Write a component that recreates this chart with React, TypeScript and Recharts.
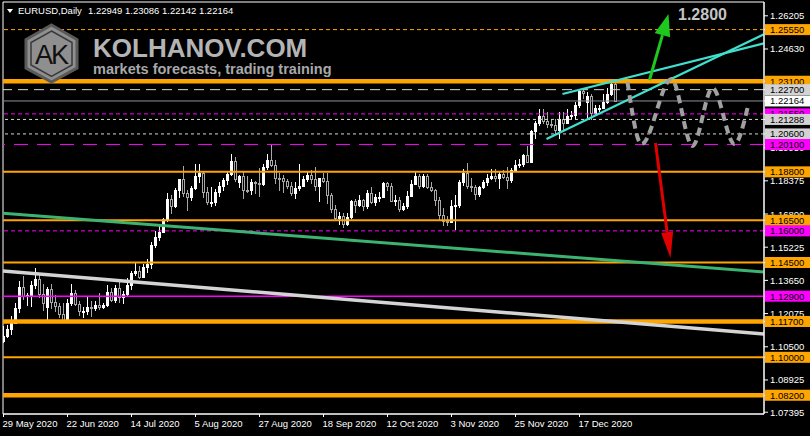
import React from 'react'
import { ComposedChart, Bar, Line, XAxis, YAxis, ReferenceLine, ReferenceArea } from 'recharts'

// EURUSD daily candles, 29 May 2020 .. 31 Dec 2020 (index = bar number)
const opens = [
  1.1077, 1.1100, 1.1135, 1.1165, 1.1236, 1.1336, 1.1292, 1.1290, 1.1341, 1.1373,
  1.1300, 1.1240, 1.1325, 1.1262, 1.1242, 1.1204, 1.1177, 1.1258, 1.1307, 1.1252,
  1.1219, 1.1221, 1.1241, 1.1234, 1.1250, 1.1238, 1.1246, 1.1310, 1.1274, 1.1330,
  1.1288, 1.1300, 1.1343, 1.1398, 1.1410, 1.1383, 1.1428, 1.1445, 1.1532, 1.1569,
  1.1596, 1.1656, 1.1753, 1.1716, 1.1792, 1.1845, 1.1778, 1.1763, 1.1802, 1.1861,
  1.1876, 1.1785, 1.1736, 1.1738, 1.1785, 1.1813, 1.1842, 1.1869, 1.1931, 1.1834,
  1.1858, 1.1795, 1.1793, 1.1834, 1.1829, 1.1822, 1.1904, 1.1936, 1.1913, 1.1853,
  1.1850, 1.1837, 1.1815, 1.1780, 1.1805, 1.1814, 1.1845, 1.1864, 1.1846, 1.1813,
  1.1849, 1.1838, 1.1771, 1.1705, 1.1659, 1.1672, 1.1632, 1.1666, 1.1741, 1.1721,
  1.1746, 1.1716, 1.1781, 1.1736, 1.1761, 1.1762, 1.1825, 1.1813, 1.1744, 1.1747,
  1.1706, 1.1716, 1.1767, 1.1823, 1.1862, 1.1815, 1.1860, 1.1810, 1.1794, 1.1746,
  1.1673, 1.1646, 1.1642, 1.1717, 1.1725, 1.1831, 1.1876, 1.1814, 1.1810, 1.1775,
  1.1808, 1.1833, 1.1853, 1.1859, 1.1849, 1.1870, 1.1857, 1.1842, 1.1888, 1.1914,
  1.1916, 1.1962, 1.1926, 1.2072, 1.2112, 1.2146, 1.2120, 1.2109, 1.2102, 1.2078,
  1.2133, 1.2114, 1.2145, 1.2150, 1.2197, 1.2266, 1.2212, 1.2241, 1.2159, 1.2182,
  1.2185, 1.2213, 1.2249, 1.22949,
]
const highs = [
  1.1147, 1.1155, 1.1197, 1.1257, 1.1362, 1.1384, 1.1303, 1.1362, 1.1422, 1.1390,
  1.1347, 1.1335, 1.1350, 1.1298, 1.1257, 1.1257, 1.1275, 1.1349, 1.1321, 1.1265,
  1.1241, 1.1285, 1.1268, 1.1265, 1.1303, 1.1260, 1.1345, 1.1330, 1.1345, 1.1372,
  1.1313, 1.1375, 1.1411, 1.1452, 1.1433, 1.1445, 1.1468, 1.1546, 1.1601, 1.1622,
  1.1660, 1.1781, 1.1770, 1.1805, 1.1847, 1.1908, 1.1795, 1.1815, 1.1916, 1.1917,
  1.1885, 1.1806, 1.1806, 1.1800, 1.1834, 1.1851, 1.1884, 1.1966, 1.1951, 1.1866,
  1.1883, 1.1858, 1.1845, 1.1835, 1.1900, 1.1915, 1.1966, 1.2011, 1.1937, 1.1876,
  1.1863, 1.1847, 1.1834, 1.1832, 1.1917, 1.1860, 1.1885, 1.1888, 1.1902, 1.1851,
  1.1873, 1.1873, 1.1780, 1.1722, 1.1688, 1.1687, 1.1683, 1.1745, 1.1753, 1.1771,
  1.1750, 1.1792, 1.1807, 1.1774, 1.1785, 1.1831, 1.1833, 1.1825, 1.1770, 1.1760,
  1.1734, 1.1790, 1.1840, 1.1880, 1.1868, 1.1868, 1.1870, 1.1830, 1.1797, 1.1760,
  1.1710, 1.1670, 1.1745, 1.1770, 1.1839, 1.1892, 1.1920, 1.1850, 1.1820, 1.1815,
  1.1840, 1.1870, 1.1893, 1.1892, 1.1883, 1.1890, 1.1905, 1.1898, 1.1935, 1.1941,
  1.1965, 1.2005, 1.2077, 1.2122, 1.2176, 1.2177, 1.2166, 1.2131, 1.2130, 1.2163,
  1.2162, 1.2178, 1.2167, 1.2212, 1.2273, 1.2272, 1.2260, 1.2250, 1.2196, 1.2198,
  1.2250, 1.2276, 1.2310, 1.23086,
]
const lows = [
  1.1068, 1.1092, 1.1105, 1.1160, 1.1210, 1.1272, 1.1244, 1.1240, 1.1325, 1.1280,
  1.1220, 1.1168, 1.1230, 1.1213, 1.1185, 1.1168, 1.1169, 1.1242, 1.1243, 1.1196,
  1.1188, 1.1203, 1.1191, 1.1221, 1.1225, 1.1229, 1.1240, 1.1262, 1.1260, 1.1257,
  1.1255, 1.1290, 1.1320, 1.1387, 1.1371, 1.1375, 1.1398, 1.1418, 1.1520, 1.1552,
  1.1590, 1.1640, 1.1680, 1.1708, 1.1754, 1.1762, 1.1696, 1.1740, 1.1794, 1.1829,
  1.1756, 1.1722, 1.1711, 1.1716, 1.1761, 1.1788, 1.1818, 1.1860, 1.1830, 1.1802,
  1.1753, 1.1780, 1.1772, 1.1773, 1.1762, 1.1812, 1.1888, 1.1904, 1.1823, 1.1789,
  1.1780, 1.1800, 1.1765, 1.1753, 1.1790, 1.1810, 1.1834, 1.1824, 1.1788, 1.1737,
  1.1826, 1.1727, 1.1684, 1.1652, 1.1627, 1.1612, 1.1624, 1.1657, 1.1686, 1.1713,
  1.1695, 1.1702, 1.1729, 1.1718, 1.1738, 1.1755, 1.1789, 1.1739, 1.1720, 1.1688,
  1.1695, 1.1704, 1.1759, 1.1818, 1.1800, 1.1805, 1.1800, 1.1784, 1.1718, 1.1650,
  1.1622, 1.1622, 1.1640, 1.1603, 1.1710, 1.1815, 1.1800, 1.1785, 1.1745, 1.1760,
  1.1798, 1.1814, 1.1840, 1.1833, 1.1800, 1.1845, 1.1800, 1.1825, 1.1878, 1.1898,
  1.1905, 1.1923, 1.1922, 1.2037, 1.2097, 1.2106, 1.2088, 1.2090, 1.2058, 1.2036,
  1.2080, 1.2112, 1.2125, 1.2128, 1.2185, 1.2224, 1.2135, 1.2128, 1.2152, 1.2164,
  1.2180, 1.2200, 1.2240, 1.22142,
]
const closes = [
  1.1100, 1.1135, 1.1165, 1.1236, 1.1336, 1.1290, 1.1294, 1.1341, 1.1373, 1.1300,
  1.1256, 1.1325, 1.1262, 1.1242, 1.1204, 1.1177, 1.1258, 1.1307, 1.1252, 1.1219,
  1.1221, 1.1241, 1.1234, 1.1250, 1.1238, 1.1246, 1.1310, 1.1274, 1.1330, 1.1288,
  1.1300, 1.1343, 1.1398, 1.1410, 1.1383, 1.1428, 1.1445, 1.1532, 1.1569, 1.1596,
  1.1656, 1.1753, 1.1716, 1.1792, 1.1845, 1.1778, 1.1763, 1.1802, 1.1861, 1.1876,
  1.1785, 1.1736, 1.1738, 1.1785, 1.1813, 1.1842, 1.1869, 1.1931, 1.1846, 1.1858,
  1.1795, 1.1793, 1.1834, 1.1829, 1.1822, 1.1904, 1.1936, 1.1913, 1.1853, 1.1850,
  1.1837, 1.1815, 1.1780, 1.1805, 1.1814, 1.1845, 1.1864, 1.1846, 1.1813, 1.1849,
  1.1838, 1.1771, 1.1705, 1.1659, 1.1672, 1.1632, 1.1666, 1.1741, 1.1721, 1.1746,
  1.1716, 1.1781, 1.1736, 1.1761, 1.1762, 1.1825, 1.1813, 1.1744, 1.1747, 1.1706,
  1.1716, 1.1767, 1.1823, 1.1862, 1.1815, 1.1860, 1.1810, 1.1794, 1.1746, 1.1673,
  1.1646, 1.1642, 1.1717, 1.1725, 1.1831, 1.1876, 1.1814, 1.1810, 1.1775, 1.1808,
  1.1833, 1.1853, 1.1859, 1.1849, 1.1870, 1.1857, 1.1842, 1.1888, 1.1914, 1.1916,
  1.1962, 1.1926, 1.2072, 1.2112, 1.2146, 1.2120, 1.2109, 1.2102, 1.2078, 1.2133,
  1.2114, 1.2145, 1.2150, 1.2197, 1.2266, 1.2254, 1.2241, 1.2159, 1.2182, 1.2185,
  1.2213, 1.2249, 1.2298, 1.22164,
]

const dateTicks = [0, 16, 32, 48, 64, 80, 96, 112, 128, 144]
const dateLabels = [
  '29 May 2020', '22 Jun 2020', '14 Jul 2020', '5 Aug 2020', '27 Aug 2020',
  '18 Sep 2020', '12 Oct 2020', '3 Nov 2020', '25 Nov 2020', '17 Dec 2020',
]

const priceTicks = [1.26205, 1.2463, 1.1995, 1.18375, 1.168, 1.15225, 1.1365, 1.12075, 1.105, 1.08925, 1.07395]

// horizontal levels and what kind of line each one is
const levelPrices = [1.2555, 1.231, 1.227, 1.22164, 1.2155, 1.21288, 1.206, 1.201, 1.188, 1.165, 1.16, 1.145, 1.129, 1.117, 1.1, 1.082]
const levelKinds = [
  'orangeDash', 'orangeBold', 'white', 'bid', 'magentaDot', 'whiteDot', 'whiteDot', 'magentaDash',
  'orange', 'orange', 'magentaDot', 'orange', 'magenta', 'orangeBold', 'orange', 'orangeBold',
]

// forecast zigzag (bar index, price)
const forecastIdx = [156, 159.5, 167, 172.25, 177.25, 182.75, 186]
const forecastPrice = [1.2306, 1.2012, 1.2321, 1.2003, 1.2278, 1.2012, 1.2183]

// straight objects: [[bar, price], [bar, price]]
const channelFlat = [[139.75, 1.22494], [190.125, 1.249]]
const channelSteep = [[135.75, 1.20358], [190.125, 1.25332]]
const maGreen = [[-0.125, 1.16832], [190.125, 1.14046]]
const maGray = [[-0.125, 1.14093], [190.125, 1.11104]]
const arrowUp = [[161.5, 1.23158], [166.25, 1.2629]]
const arrowDown = [[163, 1.20168], [166.75, 1.1471]]

const X_DOMAIN = [-0.125, 190.125]
const Y_DOMAIN = [1.0731, 1.2686]
const FONT = '"Liberation Sans", Arial, sans-serif'

const LEVEL_STYLE: Record<string, { stroke: string; width: number; dash?: string; bg: string }> = {
  orangeDash: { stroke: '#ffa500', width: 1, dash: '4 3', bg: '#ffa500' },
  orangeBold: { stroke: '#ffa500', width: 4.5, bg: '#ffa500' },
  orange: { stroke: '#ffa500', width: 2, bg: '#ffa500' },
  white: { stroke: '#d8d8d8', width: 1, dash: '10 6', bg: '#d3d3d3' },
  whiteDot: { stroke: '#d8d8d8', width: 1, dash: '3 3', bg: '#d3d3d3' },
  bid: { stroke: '#8a8f9c', width: 1, bg: '#ffffff' },
  magentaDot: { stroke: '#ff00ff', width: 1, dash: '4 3', bg: '#ff00ff' },
  magentaDash: { stroke: '#ff00ff', width: 1, dash: '14 9', bg: '#ff00ff' },
  magenta: { stroke: '#ff00ff', width: 1.5, bg: '#ff00ff' },
}

const candles = opens.map((o, i) => ({ idx: i, open: o, high: highs[i], low: lows[i], close: closes[i] }))
const forecast = forecastIdx.map((idx, i) => ({ idx, p: forecastPrice[i] }))

const seg = (pts: number[][]) => pts.map(([x, y]) => ({ x, y }))

function Candle(props: any) {
  const { x, y, width, height, payload } = props
  const { open, close, high, low } = payload
  const h = Math.abs(height)
  const top = Math.min(y, y + height)
  const span = high - low || 1e-9
  const py = (p: number) => top + ((high - p) / span) * h
  const cx = Math.floor(x + width / 2) + 0.5
  const bull = close >= open
  const bt = Math.round(Math.min(py(open), py(close)))
  const bb = Math.round(Math.max(py(open), py(close)))
  const col = bull ? '#ffffff' : '#a8a8a8'
  return (
    <g shapeRendering="crispEdges">
      <line x1={cx} x2={cx} y1={top} y2={top + h} stroke={col} />
      <rect x={cx - 1} y={bt + 0.5} width={2} height={Math.max(bb - bt, 1)} fill={bull ? '#ffffff' : '#000000'} stroke={col} />
    </g>
  )
}

const arrowShape = (color: string, headLen: number, headHalf: number) => (p: any) => {
  const { x1, y1, x2, y2 } = p
  const dx = x2 - x1
  const dy = y2 - y1
  const len = Math.hypot(dx, dy) || 1
  const ux = dx / len
  const uy = dy / len
  const bx = x2 - ux * headLen
  const by = y2 - uy * headLen
  const nx = -uy
  const ny = ux
  return (
    <g>
      <line x1={x1} y1={y1} x2={bx} y2={by} stroke={color} strokeWidth={3} />
      <polygon points={`${x2},${y2} ${bx + nx * headHalf},${by + ny * headHalf} ${bx - nx * headHalf},${by - ny * headHalf}`} fill={color} />
    </g>
  )
}

function YTick(props: any) {
  const { x, y, payload } = props
  const v = payload.value
  const label = Number(v).toFixed(5)
  const li = levelPrices.indexOf(v)
  if (li < 0) {
    return (
      <text x={x} y={y} dy={3.5} fill="#ffffff" fontSize={9.5} fontFamily={FONT} textAnchor="start">
        {label}
      </text>
    )
  }
  const st = LEVEL_STYLE[levelKinds[li]]
  return (
    <g>
      <rect x={x - 5} y={y - 5.5} width={46} height={11} fill={st.bg} />
      <text x={x} y={y} dy={3.5} fill="#000000" fontSize={9.5} fontFamily={FONT} textAnchor="start">
        {label}
      </text>
    </g>
  )
}

function XTick(props: any) {
  const { x, y, payload } = props
  const label = dateLabels[dateTicks.indexOf(payload.value)]
  return (
    <text x={x - 1} y={y + 8} fill="#ffffff" fontSize={9.5} fontFamily={FONT} textAnchor="start">
      {label}
    </text>
  )
}

function Overlay() {
  return (
    <svg width={810} height={436} style={{ position: 'absolute', left: 0, top: 0, pointerEvents: 'none' }}>
      <polygon points="7,9 13,9 10,13" fill="#ffffff" />
      <text x={18} y={14} fill="#ffffff" fontSize={9.5} fontFamily={FONT}>EURUSD,Daily</text>
      <text x={88} y={14} fill="#ffffff" fontSize={9.5} fontFamily={FONT}>1.22949 1.23086 1.22142 1.22164</text>

      <polygon points="51.5,25 77,39.5 77,68 51.5,82 26,68 26,39.5" fill="#8f8f8f" stroke="#5a5a5a" strokeWidth={3} />
      <polygon points="51.5,31 72,42.5 72,65 51.5,76.5 31,65 31,42.5" fill="none" stroke="#3a3a3a" strokeWidth={1.5} />
      <text x={51} y={64} fill="#111111" fontSize={27} fontFamily={FONT} textAnchor="middle" letterSpacing={-2}>AK</text>

      <text x={93} y={57} fill="#b4b4b4" fontSize={26} fontWeight="bold" fontFamily={FONT}>KOLHANOV.COM</text>
      <text x={93} y={74} fill="#a8a8a8" fontSize={14.5} fontWeight="bold" fontFamily={FONT}>markets forecasts, trading training</text>

      <text x={678} y={20} fill="#c4c4c4" fontSize={16} fontWeight="bold" fontFamily={FONT}>1.2800</text>
    </svg>
  )
}

export default function App() {
  return (
    <div style={{ position: 'fixed', left: 0, top: 0, width: 810, height: 436, background: '#000000' }}>
      <ComposedChart width={810} height={436} data={candles} margin={{ top: 2, right: 0, bottom: 0, left: 3 }}>
        <XAxis
          dataKey="idx"
          type="number"
          domain={X_DOMAIN}
          allowDataOverflow
          ticks={dateTicks}
          interval={0}
          tick={<XTick />}
          tickSize={3}
          tickMargin={2}
          height={22}
          axisLine={{ stroke: '#ffffff' }}
          tickLine={{ stroke: '#ffffff' }}
        />
        <YAxis
          orientation="right"
          type="number"
          width={46}
          domain={Y_DOMAIN}
          allowDataOverflow
          ticks={[...priceTicks, ...levelPrices]}
          interval={0}
          tick={<YTick />}
          tickSize={4}
          tickMargin={2}
          axisLine={{ stroke: '#ffffff' }}
          tickLine={{ stroke: '#ffffff' }}
        />
        <ReferenceArea x1={X_DOMAIN[0]} x2={X_DOMAIN[1]} y1={Y_DOMAIN[0]} y2={Y_DOMAIN[1]} fill="none" stroke="#ffffff" />

        <Bar dataKey={(d: any) => [d.low, d.high]} barSize={3} shape={(p: any) => <Candle {...p} />} isAnimationActive={false} />

        {levelPrices.map((p, i) => {
          const st = LEVEL_STYLE[levelKinds[i]]
          return <ReferenceLine key={p} y={p} stroke={st.stroke} strokeWidth={st.width} strokeDasharray={st.dash} />
        })}

        <ReferenceLine segment={seg(maGreen)} stroke="#3cb371" strokeWidth={3} />
        <ReferenceLine segment={seg(maGray)} stroke="#d4d4d4" strokeWidth={3.5} />
        <ReferenceLine segment={seg(channelFlat)} stroke="#40e0d0" strokeWidth={2.2} />
        <ReferenceLine segment={seg(channelSteep)} stroke="#40e0d0" strokeWidth={2.2} />

        <Line
          data={forecast}
          dataKey="p"
          type="monotone"
          stroke="#a0a0a0"
          strokeWidth={4}
          strokeDasharray="8 5"
          dot={false}
          isAnimationActive={false}
        />

        <ReferenceLine segment={seg(arrowUp)} shape={arrowShape('#1ec81e', 22, 8)} />
        <ReferenceLine segment={seg(arrowDown)} shape={arrowShape('#e00000', 26, 6)} />
      </ComposedChart>
      <Overlay />
    </div>
  )
}
